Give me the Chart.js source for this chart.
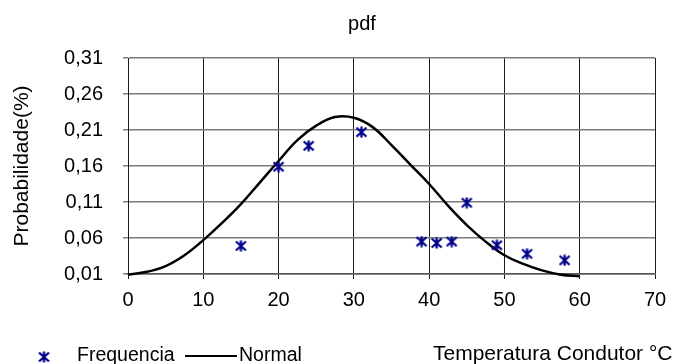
<!DOCTYPE html>
<html><head><meta charset="utf-8">
<script src="https://cdn.jsdelivr.net/npm/chart.js@4/dist/chart.umd.min.js"></script>
<style>html,body{margin:0;padding:0;background:#fff}canvas{display:block}</style>
</head><body>
<canvas id="c" width="676" height="364"></canvas>
<script>
// ---- data ----
const chartTitle = 'pdf';
const yTitle = 'Probabilidade(%)';
const xTitle = 'Temperatura Condutor °C';
const seriesNames = ['Frequencia', 'Normal'];

const freqX = [15, 20, 24, 31, 39, 41, 43, 45, 49, 53, 58];
const freqY = [0.049, 0.159, 0.188, 0.207, 0.055, 0.053, 0.055, 0.109, 0.050, 0.038, 0.029];

const normalX = [0, 2.5, 5, 7.5, 10, 12.5, 15, 17.5, 20, 22.5, 25, 27.5, 30, 32.5, 35, 37.5, 40, 42.5, 45, 47.5, 50, 52.5, 55, 57.5, 60];
const normalY = [0.009, 0.013, 0.021, 0.036, 0.057, 0.081, 0.107, 0.137, 0.167, 0.196, 0.216, 0.228, 0.227, 0.214, 0.189, 0.162, 0.135, 0.105, 0.078, 0.055, 0.036, 0.024, 0.015, 0.009, 0.007];

const xTicks = [0, 10, 20, 30, 40, 50, 60, 70];
const yTicks = [0.01, 0.06, 0.11, 0.16, 0.21, 0.26, 0.31];

const FONT = '"Liberation Sans", Arial, sans-serif';

function makeStar() {
  const c = document.createElement('canvas');
  c.width = 13; c.height = 12;
  const g = c.getContext('2d');
  g.strokeStyle = '#00008c';
  g.lineWidth = 2.3;
  g.beginPath();
  g.moveTo(1.5, 1.5); g.lineTo(11.5, 10.5);
  g.moveTo(11.5, 1.5); g.lineTo(1.5, 10.5);
  g.moveTo(6.5, 0.5); g.lineTo(6.5, 11.5);
  g.stroke();
  return c;
}
const star = makeStar();

const extras = {
  id: 'extras',
  afterDraw(chart) {
    const ctx = chart.ctx;
    ctx.save();
    ctx.fillStyle = '#000';
    ctx.textBaseline = 'middle';
    // title
    ctx.font = '20px ' + FONT;
    ctx.textAlign = 'center';
    ctx.fillText(chartTitle, 362, 24);
    // legend
    ctx.drawImage(star, 44 - star.width / 2, 357 - star.height / 2);
    ctx.textAlign = 'left';
    ctx.font = '19.5px ' + FONT;
    ctx.fillText(seriesNames[0], 77, 356);
    ctx.strokeStyle = '#000';
    ctx.lineWidth = 2;
    ctx.beginPath(); ctx.moveTo(185, 356); ctx.lineTo(237, 356); ctx.stroke();
    ctx.fillText(seriesNames[1], 239, 356);
    // x axis title
    ctx.font = '21px ' + FONT;
    ctx.fillText(xTitle, 433, 354);
    ctx.restore();
  }
};

new Chart(document.getElementById('c'), {
  type: 'scatter',
  data: {
    datasets: [
      {
        label: seriesNames[0],
        data: freqX.map((x, i) => ({x, y: freqY[i]})),
        pointStyle: star,
        pointRadius: 6,
        showLine: false
      },
      {
        label: seriesNames[1],
        data: normalX.map((x, i) => ({x, y: normalY[i]})),
        showLine: true,
        borderColor: '#000',
        borderWidth: 2.5,
        pointRadius: 0,
        tension: 0.4,
        clip: 5
      }
    ]
  },
  options: {
    responsive: false,
    animation: false,
    devicePixelRatio: 1,
    layout: {padding: {top: 58, right: 21, left: 0, bottom: 0}},
    plugins: {legend: {display: false}, title: {display: false}, tooltip: {enabled: false}},
    scales: {
      x: {
        type: 'linear', min: 0, max: 70,
        afterBuildTicks: s => { s.ticks = xTicks.map(v => ({value: v})); },
        afterFit: s => { s.height = 90; },
        ticks: {color: '#000', font: {family: FONT, size: 20}, padding: 9, maxRotation: 0},
        grid: {color: '#1a1a1a', lineWidth: 1, tickLength: 5, tickColor: '#1a1a1a'},
        border: {color: '#555', width: 1.5}
      },
      y: {
        type: 'linear', min: 0.01, max: 0.31,
        afterBuildTicks: s => { s.ticks = yTicks.map(v => ({value: v})); },
        afterFit: s => { s.width = 128; },
        ticks: {color: '#000', font: {family: FONT, size: 20}, padding: 20,
                callback: v => v.toFixed(2).replace('.', ',')},
        grid: {color: '#7a7a7a', lineWidth: 1.5, tickLength: 5, tickColor: '#7a7a7a'},
        border: {color: '#1a1a1a', width: 1},
        title: {display: true, text: yTitle, color: '#000', font: {family: FONT, size: 21}, padding: {top: 10, bottom: 0}}
      }
    }
  },
  plugins: [extras]
});
</script>
</body></html>
